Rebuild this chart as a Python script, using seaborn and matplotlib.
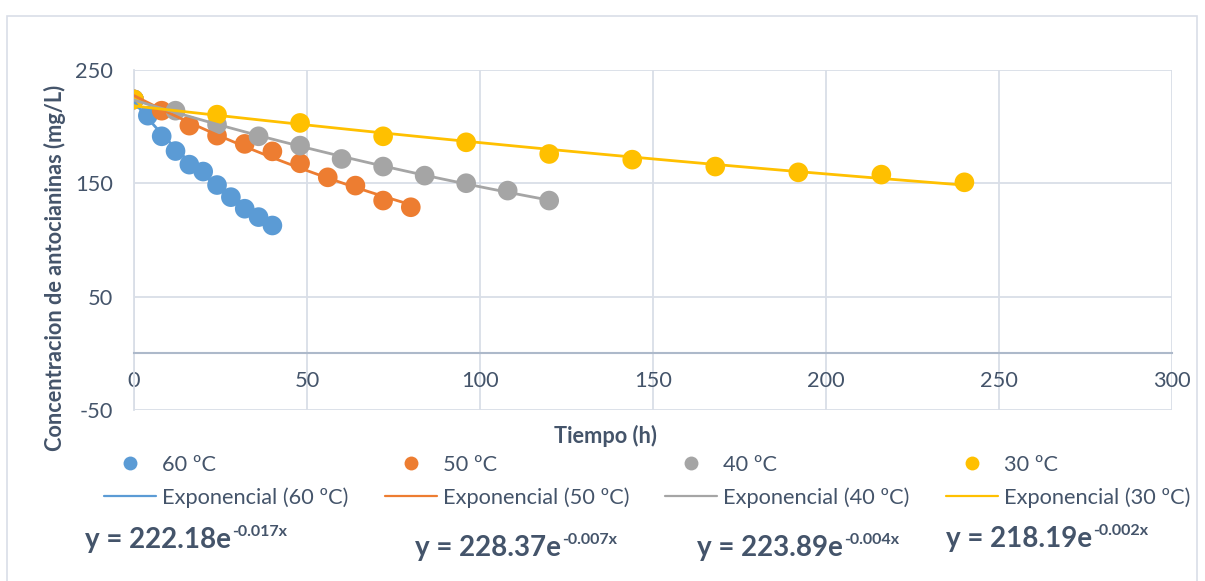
import numpy as np
import pandas as pd
import matplotlib
matplotlib.use("Agg")
import matplotlib.pyplot as plt
from matplotlib.lines import Line2D
from matplotlib.patches import Rectangle
import seaborn as sns

# Anthocyanin degradation: sampling time (h) and concentration (mg/L) per temperature
t_60 = [0, 4, 8, 12, 16, 20, 24, 28, 32, 36, 40]
c_60 = [224.0, 209.7, 191.5, 178.5, 166.5, 160.4, 148.5, 137.8, 127.6, 120.2, 112.8]

t_50 = [0, 8, 16, 24, 32, 40, 48, 56, 64, 72, 80]
c_50 = [224.0, 214.1, 200.9, 192.1, 184.8, 178.2, 167.7, 155.3, 148.0, 134.8, 128.9]

t_40 = [0, 12, 24, 36, 48, 60, 72, 84, 96, 108, 120]
c_40 = [224.0, 214.1, 201.8, 191.5, 183.3, 171.5, 164.8, 156.8, 150.1, 143.6, 134.8]

t_30 = [0, 24, 48, 72, 96, 120, 144, 168, 192, 216, 240]
c_30 = [224.0, 210.6, 203.3, 191.5, 186.2, 175.9, 170.9, 164.8, 159.7, 157.7, 150.9]

series_names = ["60 ºC", "50 ºC", "40 ºC", "30 ºC"]
series_colors = ["#5B9BD5", "#ED7D31", "#A5A5A5", "#FFC000"]

# Trendline equations as reported for each series
eq_amplitude = ["222.18", "228.37", "223.89", "218.19"]
eq_rate = ["-0.017", "-0.007", "-0.004", "-0.002"]

x_ticks = [0, 50, 100, 150, 200, 250, 300]
y_ticks = [-50, 50, 150, 250]

TEXT = "#44546A"
GRID = "#D9DEE7"
AXIS = "#ADB9CA"
FS = 15.7

sns.set_theme(style="white")
plt.rcParams["font.family"] = ["Lato", "DejaVu Sans"]
plt.rcParams["axes.unicode_minus"] = False

W, H = 1205, 581
fig = plt.figure(figsize=(W / 100, H / 100), dpi=100)
fig.patch.set_facecolor("white")

# outer chart frame
fig.patches.append(Rectangle((7 / W, -0.05), (1197 - 7) / W, 1.05 - 16 / H,
                             transform=fig.transFigure, fill=False,
                             edgecolor=GRID, linewidth=1.2, zorder=0))

ax = fig.add_axes([134 / W, 1 - 410 / H, (1172 - 134) / W, (410 - 70) / H])

frames = []
for name, t, c in zip(series_names, [t_60, t_50, t_40, t_30], [c_60, c_50, c_40, c_30]):
    frames.append(pd.DataFrame({"Tiempo": t, "Conc": c, "Serie": name}))
df = pd.concat(frames, ignore_index=True)
palette = dict(zip(series_names, series_colors))

# measured points
sns.scatterplot(data=df, x="Tiempo", y="Conc", hue="Serie", palette=palette,
                s=200, edgecolor="none", legend=False, ax=ax, zorder=3)

# exponential trendlines (least squares on log concentration)
trend_frames = []
for name in series_names:
    sub = df[df["Serie"] == name]
    k, ln_a = np.polyfit(sub["Tiempo"], np.log(sub["Conc"]), 1)
    tt = np.linspace(0, sub["Tiempo"].max(), 100)
    trend_frames.append(pd.DataFrame({"Tiempo": tt, "Conc": np.exp(ln_a) * np.exp(k * tt),
                                      "Serie": name}))
trend = pd.concat(trend_frames, ignore_index=True)
sns.lineplot(data=trend, x="Tiempo", y="Conc", hue="Serie", palette=palette,
             linewidth=2.0, legend=False, ax=ax, zorder=4, sort=False)

ax.set_xlim(0, 300)
ax.set_ylim(-50, 250)
ax.set_xticks(x_ticks)
ax.set_yticks(y_ticks)
ax.set_xlabel("")
ax.set_ylabel("")
ax.grid(True, color=GRID, linewidth=1.3, zorder=0)
ax.set_axisbelow(True)
for side in ["top", "right"]:
    ax.spines[side].set_visible(False)
ax.spines["left"].set_color(GRID)
ax.spines["left"].set_linewidth(1.3)
ax.spines["bottom"].set_position(("data", 0))
ax.spines["bottom"].set_color(AXIS)
ax.spines["bottom"].set_linewidth(1.5)
ax.tick_params(axis="both", length=0, labelsize=FS, labelcolor=TEXT)
ax.tick_params(axis="y", pad=15)
ax.tick_params(axis="x", pad=13)

fig.text(605 / W, 1 - 436 / H, "Tiempo (h)", ha="center", va="center",
         fontsize=FS, fontweight="bold", color=TEXT)
fig.text(55 / W, 1 - 268 / H, "Concentracion de antocianinas (mg/L)", ha="center",
         va="center", rotation=90, fontsize=FS, fontweight="bold", color=TEXT)

# legend: markers on the first row, trendlines on the second
handles, labels = [], []
for name, col in zip(series_names, series_colors):
    handles.append(Line2D([], [], linestyle="none", marker="o", markersize=10,
                          markerfacecolor=col, markeredgecolor="none"))
    labels.append(name)
    handles.append(Line2D([], [], color=col, linewidth=1.6))
    labels.append(f"Exponencial ({name})")
leg = fig.legend(handles, labels, ncol=4, loc="upper left",
                 bbox_to_anchor=(104 / W, 1 - 455 / H), frameon=False,
                 fontsize=FS, handlelength=2.39, handletextpad=0.28,
                 columnspacing=1.65, labelspacing=0.55, borderpad=0,
                 borderaxespad=0)
for txt in leg.get_texts():
    txt.set_color(TEXT)

# trendline equations: main part plus superscript exponent
eq_pos = [(85, 548), (415, 556), (697, 556), (946, 547)]
main_texts = []
for (px, py), a in zip(eq_pos, eq_amplitude):
    main_texts.append(fig.text(px / W, 1 - py / H, f"y = {a}e", ha="left",
                               va="baseline", fontsize=20, fontweight="bold",
                               color=TEXT))
fig.canvas.draw()
renderer = fig.canvas.get_renderer()
for (px, py), mt, r in zip(eq_pos, main_texts, eq_rate):
    bb = mt.get_window_extent(renderer)
    fig.text((bb.x1 + 1) / W, 1 - (py - 12) / H, f"{r}x", ha="left",
             va="baseline", fontsize=11.5, fontweight="bold", color=TEXT)

fig.savefig("out.png", dpi=100, facecolor="white")
